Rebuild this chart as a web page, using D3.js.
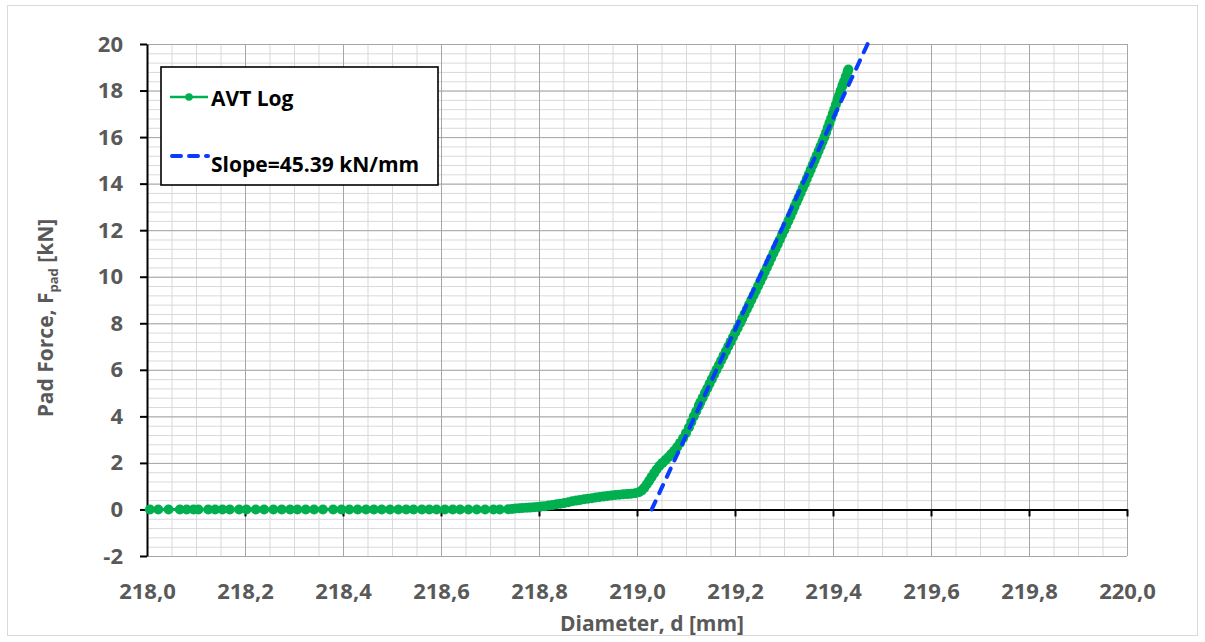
<!DOCTYPE html>
<html>
<head>
<meta charset="utf-8">
<script src="https://cdn.jsdelivr.net/npm/d3@7"></script>
<style>
  body { margin: 0; background: #ffffff; }
  svg { display: block; }
  text { font-family: "Open Sans", "Liberation Sans", sans-serif; font-weight: 700; }
</style>
</head>
<body>
<svg id="chart" width="1205" height="642"></svg>
<script>
// AVT log: pad diameter [mm] and measured pad force [kN]
const diameter = [
  218.006, 218.023, 218.044, 218.067, 218.081, 218.095, 218.105, 218.125, 218.139, 218.154,
  218.169, 218.188, 218.203, 218.222, 218.239, 218.258, 218.275, 218.292, 218.307, 218.324,
  218.341, 218.359, 218.380, 218.397, 218.413, 218.430, 218.447, 218.463, 218.479, 218.496,
  218.513, 218.529, 218.544, 218.561, 218.576, 218.591, 218.608, 218.624, 218.639, 218.656,
  218.673, 218.690, 218.707, 218.720, 218.737,
  218.745, 218.752, 218.760, 218.767, 218.775, 218.782, 218.790, 218.797, 218.805, 218.812,
  218.820, 218.828, 218.836, 218.844, 218.852, 218.860, 218.868, 218.876, 218.884, 218.892,
  218.900, 218.908, 218.916, 218.924, 218.932, 218.940, 218.948, 218.956, 218.964, 218.972,
  218.980, 218.988, 218.996,
  219.004, 219.010, 219.015, 219.020, 219.025, 219.030, 219.035, 219.040, 219.046, 219.052,
  219.058, 219.064, 219.070, 219.076, 219.082, 219.088, 219.094, 219.100, 219.106, 219.111,
  219.116, 219.121, 219.126,
  219.1292, 219.1340, 219.1387, 219.1434, 219.1481, 219.1528, 219.1575, 219.1622, 219.1670, 219.1718,
  219.1766, 219.1814, 219.1862, 219.1910, 219.1958, 219.2006, 219.2054, 219.2103, 219.2149, 219.2195,
  219.2241, 219.2287, 219.2333, 219.2379, 219.2425, 219.2471, 219.2517, 219.2563, 219.2607, 219.2651,
  219.2695, 219.2739, 219.2783, 219.2828, 219.2872, 219.2916, 219.2960, 219.3004, 219.3047, 219.3090,
  219.3133, 219.3176, 219.3214, 219.3256, 219.3298, 219.3340, 219.3382, 219.3424, 219.3464, 219.3505,
  219.3545, 219.3585, 219.3625, 219.3665, 219.3705, 219.3745, 219.3785, 219.3825, 219.3859, 219.3893,
  219.3927, 219.3961, 219.3995, 219.4027, 219.4059, 219.4091, 219.4124, 219.4156, 219.4191, 219.4226,
  219.4261, 219.4296, 219.4314
];
const padForce = [
  0, 0, 0, 0, 0, 0, 0, 0, 0, 0,
  0, 0, 0, 0, 0, 0, 0, 0, 0, 0,
  0, 0, 0, 0, 0, 0, 0, 0, 0, 0,
  0, 0, 0, 0, 0, 0, 0, 0, 0, 0,
  0, 0, 0, 0, 0.01,
  0.02, 0.04, 0.05, 0.06, 0.07, 0.08, 0.10, 0.11, 0.13, 0.14,
  0.17, 0.19, 0.22, 0.25, 0.28, 0.31, 0.35, 0.38, 0.41, 0.44,
  0.46, 0.48, 0.51, 0.54, 0.56, 0.58, 0.60, 0.62, 0.63, 0.65,
  0.66, 0.68, 0.70,
  0.74, 0.82, 0.93, 1.08, 1.24, 1.40, 1.56, 1.72, 1.88, 2.00,
  2.12, 2.24, 2.38, 2.52, 2.68, 2.86, 3.06, 3.28, 3.52, 3.76,
  4.00, 4.22, 4.45,
  4.6, 4.8, 5.0, 5.2, 5.4, 5.6, 5.8, 6.0, 6.2, 6.4,
  6.6, 6.8, 7.0, 7.2, 7.4, 7.6, 7.8, 8.0, 8.2, 8.4,
  8.6, 8.8, 9.0, 9.2, 9.4, 9.6, 9.8, 10.0, 10.2, 10.4,
  10.6, 10.8, 11.0, 11.2, 11.4, 11.6, 11.8, 12.0, 12.2, 12.4,
  12.6, 12.8, 13.0, 13.2, 13.4, 13.6, 13.8, 14.0, 14.2, 14.4,
  14.6, 14.8, 15.0, 15.2, 15.4, 15.6, 15.8, 16.0, 16.2, 16.4,
  16.6, 16.8, 17.0, 17.2, 17.4, 17.6, 17.8, 18.0, 18.2, 18.4,
  18.6, 18.8, 18.9
];

// Linear fit of the loaded part
const fitSlope = 45.39;         // kN/mm
const fitZeroDiameter = 219.03; // diameter where the fit crosses 0 kN
const fitForceRange = [0, 20];

const xTicks = [218.0, 218.2, 218.4, 218.6, 218.8, 219.0, 219.2, 219.4, 219.6, 219.8, 220.0];
const xMinorTicks = d3.range(0, 41).map(i => 218 + i * 0.05);
const yTicks = [-2, 0, 2, 4, 6, 8, 10, 12, 14, 16, 18, 20];
const yMinorTicks = d3.range(0, 56).map(i => -2 + i * 0.4);

const legendLabels = ["AVT Log", "Slope=45.39 kN/mm"];

const svg = d3.select("#chart");
const W = 1205, H = 642;
const plotLeft = 147, plotRight = 1127, plotTop = 44, plotBottom = 556;

const x = d3.scaleLinear().domain([218, 220]).range([plotLeft, plotRight]);
const y = d3.scaleLinear().domain([-2, 20]).range([plotBottom, plotTop]);

const commaFmt = d3.formatLocale({ decimal: ",", thousands: ".", grouping: [3], currency: ["", ""] }).format(".1f");
const intFmt = d => String(d);

const tickGrey = "#595959";
const green = "#00B050";
const blue = "#0A3CFF";

// chart frame
svg.append("rect")
  .attr("x", 7.5).attr("y", 5.5).attr("width", W - 15).attr("height", H - 12)
  .attr("fill", "#fff").attr("stroke", "#D9D9D9").attr("stroke-width", 1);

// minor gridlines
svg.append("g")
  .attr("transform", `translate(0,${plotBottom})`)
  .call(d3.axisBottom(x).tickValues(xMinorTicks).tickSize(-(plotBottom - plotTop)).tickFormat(""))
  .call(g => g.select(".domain").remove())
  .call(g => g.selectAll("line").attr("stroke", "#D9D9D9").attr("stroke-width", 1));
svg.append("g")
  .attr("transform", `translate(${plotLeft},0)`)
  .call(d3.axisLeft(y).tickValues(yMinorTicks).tickSize(-(plotRight - plotLeft)).tickFormat(""))
  .call(g => g.select(".domain").remove())
  .call(g => g.selectAll("line").attr("stroke", "#D9D9D9").attr("stroke-width", 1));

// major gridlines
svg.append("g")
  .attr("transform", `translate(0,${plotBottom})`)
  .call(d3.axisBottom(x).tickValues(xTicks).tickSize(-(plotBottom - plotTop)).tickFormat(""))
  .call(g => g.select(".domain").remove())
  .call(g => g.selectAll("line").attr("stroke", "#A6A6A6").attr("stroke-width", 1));
svg.append("g")
  .attr("transform", `translate(${plotLeft},0)`)
  .call(d3.axisLeft(y).tickValues(yTicks).tickSize(-(plotRight - plotLeft)).tickFormat(""))
  .call(g => g.select(".domain").remove())
  .call(g => g.selectAll("line").attr("stroke", "#A6A6A6").attr("stroke-width", 1));

// x axis line at zero force, with tick marks
svg.append("g")
  .attr("transform", `translate(0,${y(0)})`)
  .call(d3.axisBottom(x).tickValues(xTicks.slice(1)).tickSize(7).tickSizeOuter(0).tickFormat(""))
  .call(g => g.select(".domain").attr("stroke", "#000").attr("stroke-width", 2))
  .call(g => g.selectAll("line").attr("stroke", "#000").attr("stroke-width", 2));

// x tick labels below the plot area
svg.append("g")
  .attr("transform", `translate(0,${plotBottom})`)
  .call(d3.axisBottom(x).tickValues(xTicks).tickSize(0).tickPadding(27).tickFormat(commaFmt))
  .call(g => g.select(".domain").remove())
  .call(g => g.selectAll("text").attr("fill", tickGrey).attr("font-size", 22)
    .attr("font-family", '"Open Sans", sans-serif').attr("font-weight", 700));

// y axis
svg.append("g")
  .attr("transform", `translate(${plotLeft},0)`)
  .call(d3.axisLeft(y).tickValues(yTicks).tickSize(7).tickSizeOuter(0).tickPadding(17).tickFormat(intFmt))
  .call(g => g.select(".domain").attr("stroke", "#000").attr("stroke-width", 2))
  .call(g => g.selectAll("line").attr("stroke", "#000").attr("stroke-width", 2))
  .call(g => g.selectAll("text").attr("fill", tickGrey).attr("font-size", 22)
    .attr("font-family", '"Open Sans", sans-serif').attr("font-weight", 700));

// measured series
const pts = diameter.map((d, i) => [d, padForce[i]]);
const line = d3.line().x(p => x(p[0])).y(p => y(p[1]));
svg.append("path")
  .datum(pts)
  .attr("d", line)
  .attr("fill", "none")
  .attr("stroke", green)
  .attr("stroke-width", 3);
svg.append("g")
  .selectAll("circle")
  .data(pts)
  .join("circle")
  .attr("cx", p => x(p[0]))
  .attr("cy", p => y(p[1]))
  .attr("r", 5)
  .attr("fill", green);

// fitted line
const fitPts = fitForceRange.map(f => [fitZeroDiameter + f / fitSlope, f]);
svg.append("path")
  .datum(fitPts)
  .attr("d", line)
  .attr("fill", "none")
  .attr("stroke", blue)
  .attr("stroke-width", 4)
  .attr("stroke-linecap", "round")
  .attr("stroke-dasharray", "9,9");

// legend
const lg = svg.append("g");
lg.append("rect")
  .attr("x", 161).attr("y", 67).attr("width", 277).attr("height", 118)
  .attr("fill", "#fff").attr("stroke", "#000").attr("stroke-width", 1.6);
lg.append("line")
  .attr("x1", 170).attr("x2", 208).attr("y1", 97).attr("y2", 97)
  .attr("stroke", green).attr("stroke-width", 2.5);
lg.append("circle").attr("cx", 189).attr("cy", 97).attr("r", 3.8).attr("fill", green);
lg.append("text").attr("x", 211).attr("y", 106)
  .attr("font-size", 21).attr("fill", "#000").text(legendLabels[0]);
lg.append("line")
  .attr("x1", 172).attr("x2", 208).attr("y1", 156).attr("y2", 156)
  .attr("stroke", blue).attr("stroke-width", 4)
  .attr("stroke-linecap", "round").attr("stroke-dasharray", "9,8");
lg.append("text").attr("x", 211).attr("y", 172)
  .attr("font-size", 21).attr("fill", "#000").text(legendLabels[1]);

// axis titles
svg.append("text")
  .attr("x", 652).attr("y", 631)
  .attr("text-anchor", "middle")
  .attr("font-size", 21).attr("fill", tickGrey)
  .text("Diameter, d [mm]");

const yTitle = svg.append("text")
  .attr("transform", "translate(53,318) rotate(-90)")
  .attr("text-anchor", "middle")
  .attr("font-size", 21).attr("fill", tickGrey);
yTitle.append("tspan").text("Pad Force, F");
yTitle.append("tspan").attr("dy", 5).attr("font-size", 13).text("pad");
yTitle.append("tspan").attr("dy", -5).text(" [kN]");
</script>
</body>
</html>
